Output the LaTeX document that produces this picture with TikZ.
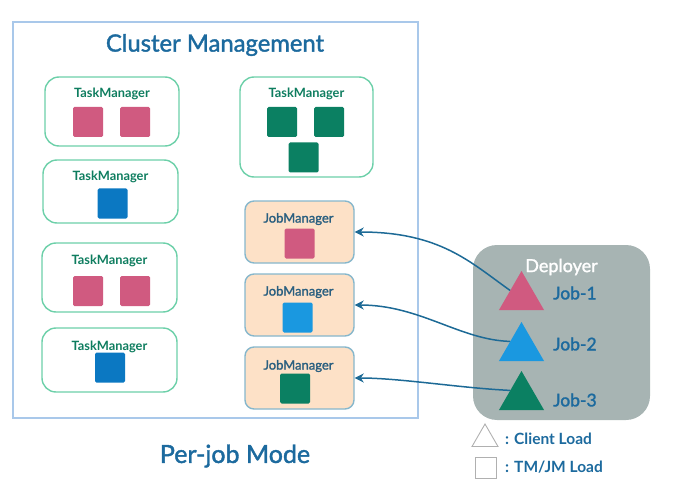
\documentclass[tikz,border=0pt]{standalone}
\usepackage{fontspec}
\setmainfont{Lato}
\newfontfamily\medfont{Lato}[RawFeature={embolden=1.6}]
\usetikzlibrary{arrows.meta,shapes.geometric}
\definecolor{frameblue}{HTML}{A9C8EA}
\definecolor{titleblue}{HTML}{1C6A9E}
\definecolor{tmborder}{HTML}{6DD0A9}
\definecolor{tmtext}{HTML}{0E7D5F}
\definecolor{slotpink}{HTML}{D05A80}
\definecolor{slotblue}{HTML}{0B78C2}
\definecolor{slotlblue}{HTML}{1A98E0}
\definecolor{slotgreen}{HTML}{0B8062}
\definecolor{jmfill}{HTML}{FDE1C7}
\definecolor{jmborder}{HTML}{86B7CC}
\definecolor{jmtext}{HTML}{2A5F80}
\definecolor{depfill}{HTML}{A7B4B3}
\definecolor{arrowblue}{HTML}{1D6A96}
\definecolor{legendgrey}{HTML}{B0B0B0}
\tikzset{
  tmbox/.style={draw=tmborder,line width=1.4pt,rounded corners=14pt,fill=white,inner sep=0pt},
  jmbox/.style={draw=jmborder,line width=1.4pt,rounded corners=9pt,fill=jmfill,inner sep=0pt,minimum width=109pt,minimum height=62pt},
  tmlabel/.style={text=tmtext,font=\fontsize{12.8}{15}\selectfont\bfseries,inner sep=0pt},
  jmlabel/.style={text=jmtext,font=\fontsize{13}{15}\selectfont\medfont,inner sep=0pt},
  slot/.style={draw=none,rounded corners=1.5pt,minimum size=30pt,inner sep=0pt},
  jobtri/.style={regular polygon,regular polygon sides=3,minimum size=52pt,inner sep=0pt,draw=none},
  joblabel/.style={text=titleblue,font=\fontsize{17.5}{20}\selectfont\medfont,inner sep=0pt,anchor=west},
  legendtext/.style={text=titleblue,font=\fontsize{15.5}{18}\selectfont\bfseries,inner sep=0pt,anchor=west},
  arr/.style={draw=arrowblue,line width=1.5pt,-{Stealth[length=9pt,width=9pt]}},
}
\begin{document}
\begin{tikzpicture}[x=1pt,y=-1pt]
\useasboundingbox (0,0) rectangle (675,492);
% outer frame
\node[draw=frameblue,line width=1.4pt,minimum width=405pt,minimum height=396pt,inner sep=0pt] (frame) at (215.5,220) {};
\node[text=titleblue,font=\fontsize{23.8}{28}\selectfont\medfont,inner sep=0pt] (title) at (215,45) {Cluster Management};
% left task managers
\node[tmbox,minimum width=134pt,minimum height=69pt] (tm1) at (112,111.5) {};
\node[tmlabel] (tm1l) at (112,94) {TaskManager};
\node[slot,fill=slotpink] (tm1a) at (88,122) {};
\node[slot,fill=slotpink] (tm1b) at (135,122) {};

\node[tmbox,minimum width=135pt,minimum height=63pt] (tm2) at (110.5,191.5) {};
\node[tmlabel] (tm2l) at (110.5,177) {TaskManager};
\node[slot,fill=slotblue] (tm2a) at (112.5,203.5) {};

\node[tmbox,minimum width=135pt,minimum height=69pt] (tm3) at (109.5,277.5) {};
\node[tmlabel] (tm3l) at (109.5,261) {TaskManager};
\node[slot,fill=slotpink] (tm3a) at (88,291) {};
\node[slot,fill=slotpink] (tm3b) at (135,291) {};

\node[tmbox,minimum width=135pt,minimum height=64pt] (tm4) at (109.5,360) {};
\node[tmlabel] (tm4l) at (109.5,347) {TaskManager};
\node[slot,fill=slotblue] (tm4a) at (110,367.5) {};

% right task manager
\node[tmbox,minimum width=133pt,minimum height=100pt] (tm5) at (306.5,127) {};
\node[tmlabel] (tm5l) at (306.5,94) {TaskManager};
\node[slot,fill=slotgreen] (tm5a) at (282,122) {};
\node[slot,fill=slotgreen] (tm5b) at (329,122) {};
\node[slot,fill=slotgreen] (tm5c) at (303.5,157.5) {};

% job managers
\node[jmbox] (jm1) at (299.5,232) {};
\node[jmlabel] (jm1l) at (298.5,219) {JobManager};
\node[slot,fill=slotpink] (jm1a) at (299.5,243.5) {};

\node[jmbox] (jm2) at (299.5,305) {};
\node[jmlabel] (jm2l) at (298.5,292) {JobManager};
\node[slot,fill=slotlblue] (jm2a) at (297.5,317.5) {};

\node[jmbox] (jm3) at (299.5,378) {};
\node[jmlabel] (jm3l) at (298.5,366) {JobManager};
\node[slot,fill=slotgreen] (jm3a) at (295,388.5) {};

\node[text=titleblue,font=\fontsize{25}{29}\selectfont\medfont,inner sep=0pt] (mode) at (235,456) {Per-job Mode};

% deployer
\node[fill=depfill,rounded corners=24pt,minimum width=177pt,minimum height=175pt,inner sep=0pt] (dep) at (561.5,332.5) {};
\node[text=white,font=\fontsize{18}{21}\selectfont\medfont,inner sep=0pt] (depl) at (561.5,267) {Deployer};
\node[jobtri,fill=slotpink] (j1) at (521.5,297) {};
\node[jobtri,fill=slotlblue] (j2) at (521.5,348) {};
\node[jobtri,fill=slotgreen] (j3) at (521.5,397) {};
\node[joblabel] (j1l) at (553,293) {Job-1};
\node[joblabel] (j2l) at (553,344) {Job-2};
\node[joblabel] (j3l) at (553,400) {Job-3};

% arrows
\draw[arr] (j1.side 1) .. controls (470,262) and (440,232) .. (jm1.east);
\draw[arr] (j2.side 1) .. controls (460,340) and (420,305) .. (jm2.east);
\draw[arr] (j3.side 1) .. controls (460,388) and (400,378) .. (jm3.east);

% legend
\node[regular polygon,regular polygon sides=3,minimum size=30pt,inner sep=0pt,draw=legendgrey,line width=0.9pt] (lt) at (485,439) {};
\node[legendtext] (ltl) at (505,439) {: Client Load};
\node[draw=legendgrey,line width=0.9pt,minimum size=21pt,inner sep=0pt] (ls) at (486,467.5) {};
\node[legendtext] (lsl) at (505,467.5) {: TM/JM Load};
\end{tikzpicture}
\end{document}
